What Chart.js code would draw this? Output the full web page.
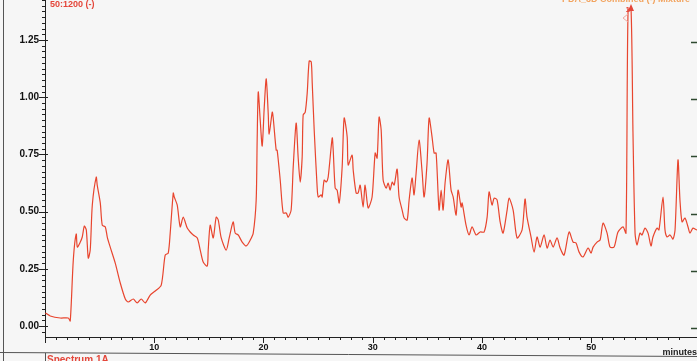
<!DOCTYPE html>
<html>
<head>
<meta charset="utf-8">
<script src="https://cdn.jsdelivr.net/npm/chart.js@4.4.1/dist/chart.umd.min.js"></script>
<style>
  html, body { margin: 0; padding: 0; background: #f6f6f6; }
</style>
</head>
<body>
<canvas id="myChart" width="697" height="361"></canvas>
<script>
// retention time (minutes) and absorbance
const minutes = [
  0.03, 0.48, 1.40, 2.13, 2.31, 2.59, 2.86, 2.96, 3.23, 3.41, 3.60, 3.78, 3.96, 4.14, 4.33, 4.69, 4.78, 5.06, 5.24, 5.52,
  5.70, 5.97, 6.43, 6.89, 7.35, 7.62, 8.08, 8.44, 8.81, 9.17, 9.63, 10.09, 10.64, 11.00, 11.28, 11.46, 11.74, 11.83, 12.10, 12.38,
  12.65, 13.02, 13.29, 13.57, 13.94, 14.21, 14.48, 14.85, 14.94, 15.12, 15.40, 15.67, 15.86, 16.13, 16.59, 16.86, 17.22, 17.41, 17.68, 18.05,
  18.42, 18.79, 19.06, 19.33, 19.42, 19.52, 19.70, 19.88, 20.07, 20.25, 20.43, 20.52, 20.80, 20.89, 21.16, 21.25, 21.53, 21.80, 22.08, 22.26,
  22.53, 22.72, 22.99, 23.17, 23.36, 23.54, 23.63, 23.82, 24.00, 24.18, 24.37, 24.46, 24.64, 24.91, 25.01, 25.28, 25.37, 25.55, 25.74, 25.92,
  26.29, 26.38, 26.56, 26.74, 26.93, 27.20, 27.38, 27.66, 27.75, 28.11, 28.21, 28.48, 28.66, 28.85, 29.12, 29.30, 29.58, 29.94, 30.22, 30.40,
  30.58, 30.77, 30.95, 31.23, 31.41, 31.59, 31.78, 31.96, 32.23, 32.41, 32.69, 32.87, 33.15, 33.33, 33.60, 33.78, 33.97, 34.24, 34.52, 34.70,
  34.97, 35.16, 35.43, 35.62, 35.80, 36.07, 36.26, 36.44, 36.62, 36.90, 37.17, 37.36, 37.63, 37.81, 38.09, 38.18, 38.54, 38.82, 39.09, 39.46,
  39.83, 40.19, 40.47, 40.65, 40.92, 41.11, 41.38, 41.66, 41.93, 42.30, 42.48, 42.85, 43.21, 43.67, 43.94, 44.12, 44.49, 44.77, 45.04, 45.32,
  45.68, 45.96, 46.23, 46.51, 46.87, 47.15, 47.51, 47.97, 48.34, 48.61, 48.89, 49.25, 49.71, 49.98, 50.17, 50.53, 50.81, 51.08, 51.45, 51.72,
  52.09, 52.45, 52.91, 53.18, 53.37, 53.64, 53.82, 54.01, 54.19, 54.46, 54.65, 54.92, 55.20, 55.47, 55.65, 56.02, 56.20, 56.57, 56.75, 56.94,
  57.21, 57.48, 57.67, 57.94, 58.12, 58.31, 58.58, 58.86, 59.04, 59.31, 59.68, 60.41
];
const absorbance = [
  0.057, 0.044, 0.035, 0.035, 0.022, 0.288, 0.402, 0.345, 0.367, 0.389, 0.437, 0.420, 0.297, 0.332, 0.529, 0.651, 0.616, 0.538, 0.441, 0.433,
  0.389, 0.345, 0.275, 0.188, 0.118, 0.105, 0.118, 0.101, 0.118, 0.101, 0.135, 0.153, 0.179, 0.310, 0.319, 0.406, 0.581, 0.564, 0.529, 0.433,
  0.476, 0.428, 0.411, 0.398, 0.385, 0.332, 0.280, 0.262, 0.332, 0.441, 0.385, 0.476, 0.463, 0.385, 0.332, 0.385, 0.455, 0.406, 0.398, 0.367,
  0.350, 0.376, 0.406, 0.551, 0.813, 1.023, 0.900, 0.787, 0.957, 1.080, 0.931, 0.839, 0.935, 0.909, 0.769, 0.769, 0.638, 0.494, 0.494, 0.476,
  0.507, 0.695, 0.887, 0.739, 0.629, 0.739, 0.922, 0.935, 1.018, 1.158, 1.154, 1.062, 0.857, 0.608, 0.564, 0.573, 0.564, 0.638, 0.629, 0.651,
  0.822, 0.769, 0.603, 0.594, 0.538, 0.695, 0.909, 0.826, 0.704, 0.747, 0.682, 0.581, 0.581, 0.616, 0.520, 0.616, 0.516, 0.564, 0.756, 0.734,
  0.913, 0.857, 0.638, 0.603, 0.625, 0.594, 0.629, 0.616, 0.686, 0.564, 0.507, 0.472, 0.463, 0.551, 0.647, 0.573, 0.669, 0.813, 0.673, 0.564,
  0.712, 0.909, 0.826, 0.756, 0.756, 0.507, 0.594, 0.507, 0.625, 0.726, 0.594, 0.564, 0.485, 0.594, 0.520, 0.538, 0.441, 0.398, 0.433, 0.398,
  0.411, 0.411, 0.476, 0.586, 0.529, 0.559, 0.551, 0.455, 0.406, 0.507, 0.559, 0.507, 0.385, 0.420, 0.555, 0.476, 0.389, 0.323, 0.389, 0.345,
  0.398, 0.341, 0.376, 0.345, 0.385, 0.341, 0.310, 0.411, 0.367, 0.363, 0.323, 0.302, 0.341, 0.319, 0.345, 0.367, 0.376, 0.450, 0.406, 0.345,
  0.345, 0.411, 0.433, 0.406, 1.381, 1.390, 0.844, 0.406, 0.354, 0.406, 0.398, 0.428, 0.406, 0.350, 0.389, 0.428, 0.420, 0.564, 0.420, 0.389,
  0.398, 0.380, 0.420, 0.726, 0.551, 0.455, 0.472, 0.433, 0.406, 0.428, 0.420, 0.428
];
const xLabelValues = [10, 20, 30, 40, 50];
const yLabelValues = [0, 0.25, 0.5, 0.75, 1.0, 1.25];

const FONT = "'Liberation Sans', Arial, sans-serif";
const isMultiple = (v, step) => Math.abs(v / step - Math.round(v / step)) < 1e-6;

const decorations = {
  id: "decorations",
  beforeDraw: (chart) => {
    const { ctx } = chart;
    ctx.save();
    ctx.fillStyle = "#f6f6f6";
    ctx.fillRect(0, 0, chart.width, chart.height);
    ctx.restore();
  },
  afterDraw: (chart) => {
    const { ctx, chartArea, scales } = chart;
    const xs = scales.x;
    const ys = scales.y;
    ctx.save();

    // tick marks, long for labelled ones
    ctx.strokeStyle = "#222";
    ctx.lineWidth = 1;
    ctx.beginPath();
    ys.ticks.forEach((t) => {
      const py = Math.round(ys.getPixelForValue(t.value)) + 0.5;
      const major = isMultiple(t.value, 0.25);
      ctx.moveTo(major ? 39 : 42, py);
      ctx.lineTo(major ? 48 : 45, py);
    });
    xs.ticks.forEach((t) => {
      const px = Math.round(xs.getPixelForValue(t.value)) + 0.5;
      const major = isMultiple(t.value, 10);
      ctx.moveTo(px, chartArea.bottom);
      ctx.lineTo(px, chartArea.bottom + (major ? 6 : 3));
    });
    ctx.stroke();

    // ticks of the neighbouring panel on the right
    ctx.strokeStyle = "#2f4a30";
    ctx.lineWidth = 1.5;
    ctx.beginPath();
    yLabelValues.forEach((v) => {
      const py = Math.round(ys.getPixelForValue(v)) + 2.5;
      ctx.moveTo(691, py);
      ctx.lineTo(697, py);
    });
    ctx.stroke();

    // page frame lines
    ctx.strokeStyle = "#555";
    ctx.lineWidth = 1;
    ctx.beginPath();
    ctx.moveTo(3.5, 0);
    ctx.lineTo(3.5, 361);
    ctx.moveTo(0, 352.5);
    ctx.lineTo(697, 356.5);
    ctx.moveTo(45.5, 353);
    ctx.lineTo(45.5, 361);
    ctx.stroke();

    // texts
    ctx.font = "bold 9px " + FONT;
    ctx.fillStyle = "#e4463a";
    ctx.textBaseline = "middle";
    ctx.textAlign = "left";
    ctx.fillText("50:1200 (-)", 50, 5);

    ctx.fillStyle = "#f2a35e";
    ctx.textAlign = "right";
    ctx.textBaseline = "alphabetic";
    ctx.fillText("PDA_3D Combined (-) Mixture", 690, 2);

    ctx.fillStyle = "#222";
    ctx.textBaseline = "middle";
    ctx.fillText("minutes", 697, 353);

    ctx.fillStyle = "#e4463a";
    ctx.textAlign = "left";
    ctx.textBaseline = "top";
    ctx.font = "bold 10px " + FONT;
    ctx.fillText("Spectrum 1A", 47, 355);

    // peak marker 1A
    const pk = xs.getPixelForValue(53.64);
    ctx.font = "bold 8px " + FONT;
    ctx.textAlign = "right";
    ctx.textBaseline = "middle";
    ctx.fillText("1", pk - 1, 10);
    ctx.beginPath();
    ctx.moveTo(pk, 4);
    ctx.lineTo(pk + 3, 11);
    ctx.lineTo(pk - 3, 11);
    ctx.closePath();
    ctx.fill();
    ctx.strokeStyle = "#f0a8a0";
    ctx.beginPath();
    ctx.moveTo(pk - 3, 14);
    ctx.lineTo(pk - 8, 18);
    ctx.lineTo(pk - 3, 22);
    ctx.stroke();

    ctx.restore();
  },
};

const ctx = document.getElementById("myChart").getContext("2d");
new Chart(ctx, {
  type: "line",
  data: {
    datasets: [
      {
        data: minutes.map((m, i) => ({ x: m, y: absorbance[i] })),
        borderColor: "#e8452e",
        borderWidth: 1.2,
        pointRadius: 0,
        tension: 0.25,
      },
    ],
  },
  plugins: [decorations],
  options: {
    responsive: false,
    animation: false,
    layout: { padding: 0 },
    plugins: { legend: { display: false }, tooltip: { enabled: false } },
    scales: {
      x: {
        type: "linear",
        min: 0,
        max: 59.68,
        afterFit: (scale) => {
          scale.height = 24;
          scale.paddingLeft = 0;
          scale.paddingRight = 0;
        },
        grid: { display: false, drawTicks: false },
        border: { display: true, color: "#222", width: 1 },
        ticks: {
          stepSize: 1,
          autoSkip: false,
          maxRotation: 0,
          padding: 5,
          color: "#111",
          font: { family: FONT, size: 9, weight: "bold" },
          callback: (v) => (xLabelValues.some((l) => Math.abs(v - l) < 1e-6) ? String(Math.round(v)) : ""),
        },
      },
      y: {
        type: "linear",
        min: -0.048,
        max: 1.425,
        afterFit: (scale) => {
          scale.width = 45;
          scale.paddingTop = 0;
          scale.paddingBottom = 0;
        },
        grid: { display: false, drawTicks: false },
        border: { display: true, color: "#222", width: 1 },
        ticks: {
          stepSize: 0.025,
          includeBounds: false,
          autoSkip: false,
          padding: 6,
          color: "#111",
          font: { family: FONT, size: 10, weight: "bold" },
          callback: (v) => (yLabelValues.some((l) => Math.abs(v - l) < 1e-6) ? v.toFixed(2) : ""),
        },
      },
    },
  },
});
</script>
</body>
</html>
